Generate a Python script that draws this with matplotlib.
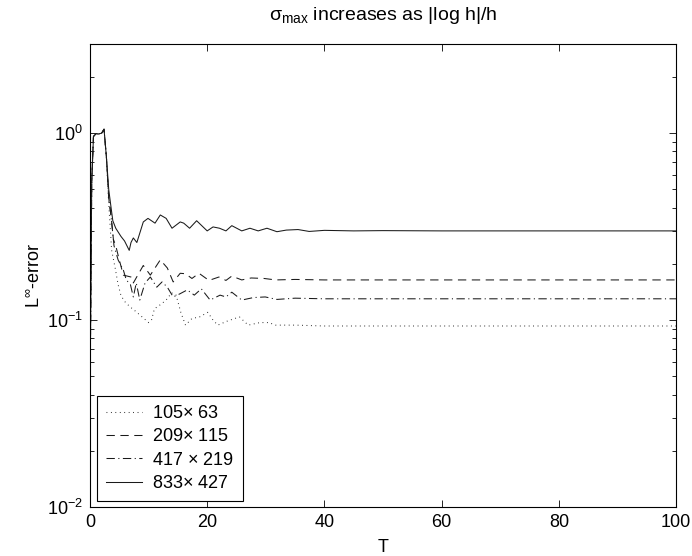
import numpy as np
import matplotlib
matplotlib.use("Agg")
import matplotlib.pyplot as plt

plt.rcParams.update({
    "font.family": ["Liberation Sans", "DejaVu Sans"],
    "font.size": 13,
    "mathtext.fontset": "custom",
    "mathtext.rm": "Liberation Sans",
    "mathtext.it": "Liberation Sans:italic",
    "mathtext.sf": "Liberation Sans",
    "lines.scale_dashes": False,
})

# series: (T, error) pairs
t_105 = [0, 0.3, 0.6, 1.0, 1.5, 2.0, 2.4, 2.8, 3.2, 3.7, 4.3, 4.8, 5.3, 6.0, 6.8, 7.7, 8.9,
         10.0, 10.5, 11.0, 12.2, 13.2, 13.9, 14.7, 15.5, 16.3, 17.4, 18.7, 20.1, 21.0, 21.8,
         23.5, 25.5, 27.0, 29.0, 30.5, 31.7, 35, 40, 50, 60, 70, 80, 90, 100]
e_105 = [0.035, 0.55, 0.96, 0.99, 0.99, 1.0, 1.05, 0.75, 0.42, 0.236, 0.19, 0.155, 0.135, 0.125,
         0.118, 0.112, 0.104, 0.097, 0.1, 0.115, 0.122, 0.13, 0.14, 0.136, 0.11, 0.094, 0.102,
         0.104, 0.11, 0.1, 0.094, 0.099, 0.104, 0.094, 0.097, 0.097, 0.094, 0.094, 0.093,
         0.093, 0.093, 0.093, 0.093, 0.093, 0.093]

t_209 = [0, 0.3, 0.6, 1.0, 1.5, 2.0, 2.4, 2.8, 3.2, 3.6, 4.0, 4.4, 5.0, 5.7, 7.0, 7.4, 8.2,
         9.1, 10.3, 12.0, 13.2, 14.2, 15.4, 16.3, 17.4, 18.6, 20.3, 22.0, 23.2, 24.2, 25.9,
         27.5, 29.7, 31.7, 35, 40, 50, 60, 70, 80, 90, 100]
e_209 = [0.035, 0.55, 0.96, 0.99, 0.99, 1.0, 1.05, 0.75, 0.45, 0.36, 0.27, 0.25, 0.21, 0.174,
         0.17, 0.158, 0.175, 0.196, 0.174, 0.21, 0.19, 0.16, 0.178, 0.177, 0.167, 0.178, 0.163,
         0.17, 0.163, 0.172, 0.164, 0.168, 0.167, 0.164, 0.165, 0.164, 0.164, 0.164, 0.164,
         0.164, 0.164, 0.164]

t_417 = [0, 0.3, 0.6, 1.0, 1.5, 2.0, 2.4, 2.8, 3.2, 3.6, 4.1, 4.8, 5.7, 6.2, 6.9, 7.4, 7.9,
         8.5, 9.4, 10.3, 11.4, 12.3, 13.2, 14.2, 15.3, 16.6, 17.8, 19.0, 20.5, 22.2, 23.2,
         24.2, 25.9, 27.9, 29.9, 31.9, 35, 40, 50, 60, 70, 80, 90, 100]
e_417 = [0.035, 0.55, 0.96, 0.99, 0.99, 1.0, 1.05, 0.75, 0.45, 0.36, 0.25, 0.21, 0.185, 0.164,
         0.155, 0.133, 0.158, 0.128, 0.158, 0.17, 0.15, 0.16, 0.15, 0.133, 0.138, 0.145, 0.136,
         0.147, 0.128, 0.136, 0.133, 0.141, 0.128, 0.132, 0.133, 0.129, 0.131, 0.13, 0.13,
         0.13, 0.13, 0.13, 0.13, 0.13]

t_833 = [0, 0.3, 0.6, 1.0, 1.5, 2.0, 2.4, 2.8, 3.2, 3.6, 3.9, 4.4, 5.3, 5.9, 6.7, 7.0, 7.4,
         8.0, 9.1, 9.9, 11.1, 12.0, 13.0, 14.0, 15.4, 16.0, 17.0, 18.2, 20.0, 21.0, 22.1,
         23.2, 24.2, 25.9, 27.3, 28.7, 30.2, 31.9, 33.5, 35.5, 37.4, 40, 45, 50, 60, 70,
         80, 90, 100]
e_833 = [0.035, 0.55, 0.96, 0.99, 0.99, 1.0, 1.05, 0.75, 0.5, 0.40, 0.34, 0.31, 0.28, 0.265,
         0.236, 0.26, 0.275, 0.26, 0.335, 0.35, 0.33, 0.365, 0.35, 0.31, 0.335, 0.33, 0.31,
         0.34, 0.30, 0.315, 0.31, 0.30, 0.32, 0.30, 0.31, 0.30, 0.31, 0.297, 0.303, 0.305,
         0.298, 0.302, 0.30, 0.301, 0.30, 0.30, 0.30, 0.30, 0.30]

labels = ["105$\\times$ 63", "209$\\times$ 115", "417 $\\times$ 219", "833$\\times$ 427"]
styles = [(0, (0.6, 2.6)), (0, (6, 4)), (0, (6, 2.5, 0.8, 2.5)), "-"]

fig = plt.figure(figsize=(6.92, 5.56), dpi=100)
ax = fig.add_axes([0.130, 0.088, 0.847, 0.833])

for t, e, lab, ls in zip([t_105, t_209, t_417, t_833], [e_105, e_209, e_417, e_833], labels, styles):
    ax.plot(t, e, color="#1a1a1a", lw=0.75, linestyle=ls, label=lab)

ax.set_yscale("log")
ax.set_xlim(0, 100)
ax.set_ylim(1e-2, 3)
ax.set_xticks([0, 20, 40, 60, 80, 100])
ax.tick_params(which="both", direction="in", top=True, right=True, labelsize=13, pad=5)
ax.tick_params(which="major", length=5, width=0.6)
ax.tick_params(which="minor", length=3, width=0.6)
for s in ax.spines.values():
    s.set_linewidth(0.8)

ax.set_xlabel("T", fontsize=13, labelpad=6)
ax.set_ylabel("L$^{\\infty}$-error", fontsize=13, labelpad=2)
ax.set_title("$\\mathrm{\\sigma_{max}}$ increases as |log h|/h", fontsize=14, pad=17)

leg = ax.legend(loc="lower left", bbox_to_anchor=(0.012, 0.013), borderaxespad=0,
                fancybox=False, edgecolor="black", framealpha=1, fontsize=13,
                handlelength=2.0, handletextpad=0.55, labelspacing=0.35, borderpad=0.5)
leg.get_frame().set_linewidth(0.8)

fig.savefig("out.png", dpi=100)
